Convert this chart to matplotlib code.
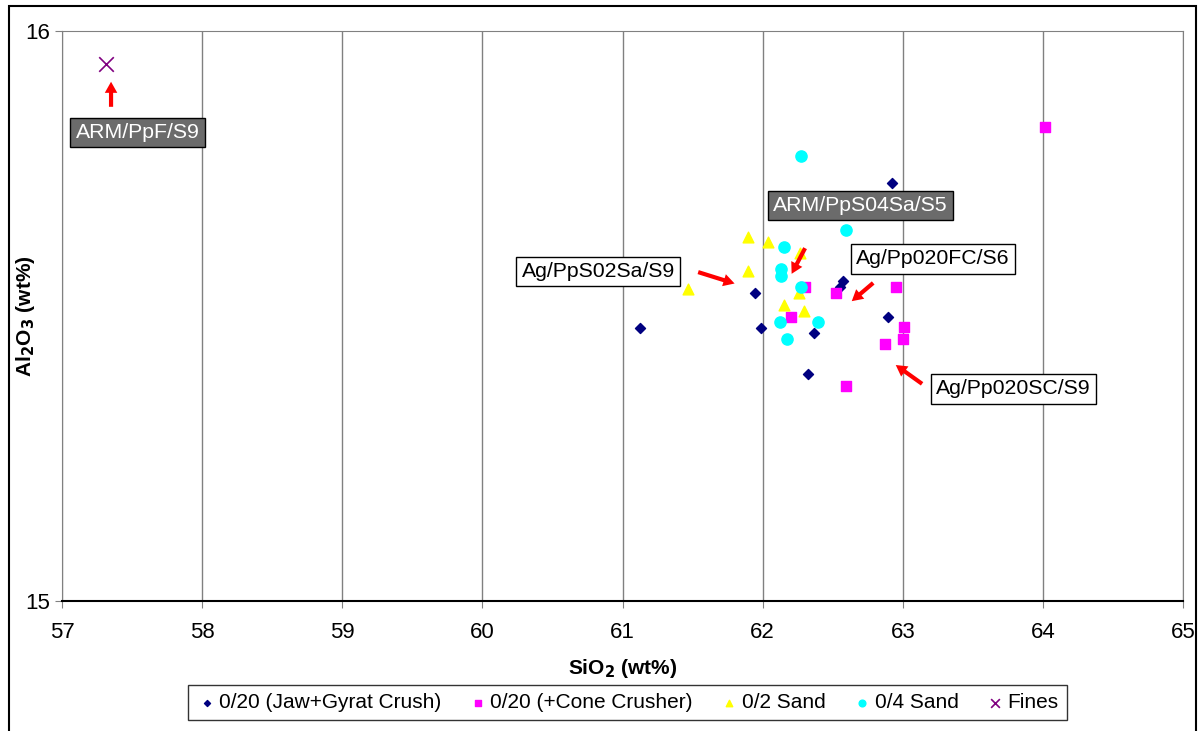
import matplotlib
matplotlib.use("Agg")
import matplotlib.pyplot as plt
from matplotlib.patches import Rectangle

plt.rcParams['font.family'] = ['Liberation Sans', 'DejaVu Sans']

# Data
jaw_x = [62.924, 62.575, 62.549, 61.946, 62.896, 61.126, 61.991, 62.365, 62.325]
jaw_y = [15.733, 15.561, 15.551, 15.540, 15.499, 15.479, 15.479, 15.471, 15.399]
cone_x = [64.016, 62.305, 62.522, 62.953, 62.206, 63.012, 63.001, 62.872, 62.598]
cone_y = [15.832, 15.551, 15.540, 15.551, 15.499, 15.480, 15.460, 15.451, 15.378]
sand02_x = [61.896, 62.041, 61.896, 61.466, 62.263, 62.156, 62.298, 62.27]
sand02_y = [15.639, 15.629, 15.579, 15.548, 15.540, 15.520, 15.509, 15.61]
sand04_x = [62.275, 62.596, 62.156, 62.132, 62.132, 62.275, 62.123, 62.394, 62.173]
sand04_y = [15.781, 15.651, 15.621, 15.582, 15.570, 15.551, 15.489, 15.489, 15.460]
fines_x = [57.314]
fines_y = [15.942]

series_labels = ['0/20 (Jaw+Gyrat Crush)', '0/20 (+Cone Crusher)', '0/2 Sand', '0/4 Sand', 'Fines']
x_ticks = [57, 58, 59, 60, 61, 62, 63, 64, 65]
y_ticks = [15, 16]

# annotations: (text, text_xy, arrow_from, arrow_to, dark)
annotations = [
    ('ARM/PpF/S9', (57.539, 15.822), (57.35, 15.867), (57.35, 15.911), True),
    ('ARM/PpS04Sa/S5', (62.696, 15.694), (62.303, 15.619), (62.207, 15.574), True),
    ('Ag/PpS02Sa/S9', (60.826, 15.578), (61.540, 15.577), (61.80, 15.557), False),
    ('Ag/Pp020FC/S6', (63.213, 15.600), (62.789, 15.558), (62.636, 15.526), False),
    ('Ag/Pp020SC/S9', (63.791, 15.372), (63.138, 15.381), (62.950, 15.414), False),
]

fig = plt.figure(figsize=(12, 7.31), dpi=100)
ax = fig.add_axes([62/1200, 1-601/731, (1183-62)/1200, (601-31)/731])

ax.scatter(jaw_x, jaw_y, marker='D', s=26, color='#000080', label=series_labels[0], zorder=3)
ax.scatter(cone_x, cone_y, marker='s', s=60, color='#FF00FF', label=series_labels[1], zorder=3)
ax.scatter(sand02_x, sand02_y, marker='^', s=60, color='#FFFF00', label=series_labels[2], zorder=3)
ax.scatter(sand04_x, sand04_y, marker='o', s=65, color='#00FFFF', label=series_labels[3], zorder=3)
ax.scatter(fines_x, fines_y, marker='x', s=110, color='#800080', linewidths=1.2, label=series_labels[4], zorder=3)

ax.set_xlim(57, 65)
ax.set_ylim(15, 16)
ax.set_xticks(x_ticks)
ax.set_yticks(y_ticks)
ax.tick_params(labelsize=16, length=5, color='#808080')
ax.tick_params(axis='x', pad=10)
ax.grid(axis='x', color='#808080', linewidth=1.0, zorder=0)
ax.set_axisbelow(True)
for s in ax.spines.values():
    s.set_color('#808080')
ax.spines['bottom'].set_color('#000000')
ax.spines['bottom'].set_linewidth(1.5)

ax.set_xlabel('SiO$_\\mathbf{2}$ (wt%)', fontsize=15, fontweight='bold', labelpad=10)
ax.set_ylabel('Al$_\\mathbf{2}$O$_\\mathbf{3}$ (wt%)', fontsize=15, fontweight='bold')
ax.yaxis.set_label_coords(-25/1121, 0.5)

for text, txy, afrom, ato, dark in annotations:
    if dark:
        bbox = dict(boxstyle='square,pad=0.25', facecolor='#6b6b6b', edgecolor='#000000', linewidth=1)
        col = 'white'
    else:
        bbox = dict(boxstyle='square,pad=0.25', facecolor='white', edgecolor='#000000', linewidth=1)
        col = 'black'
    ax.text(txy[0], txy[1], text, fontsize=15.3, color=col, ha='center', va='center', bbox=bbox, zorder=5)
    ax.annotate('', xy=ato, xytext=afrom,
                arrowprops=dict(arrowstyle='simple,head_width=0.9,head_length=0.8,tail_width=0.3',
                                color='#FF0000', lw=0, shrinkA=0, shrinkB=0), zorder=5)

leg = fig.legend(loc='center', bbox_to_anchor=(627.5/1200, 1-702.5/731), ncol=5, fontsize=15,
                 frameon=True, fancybox=False, edgecolor='#000000', handletextpad=0.1,
                 columnspacing=1.25, markerscale=0.6, borderpad=0.4, handlelength=1.0)
leg.get_frame().set_linewidth(1.0)

fig.patches.append(Rectangle((9/1200, -0.05), (1196-9)/1200, 1.05-6/731, transform=fig.transFigure,
                             fill=False, edgecolor='black', linewidth=1.5))

fig.savefig('out.png', dpi=100)
